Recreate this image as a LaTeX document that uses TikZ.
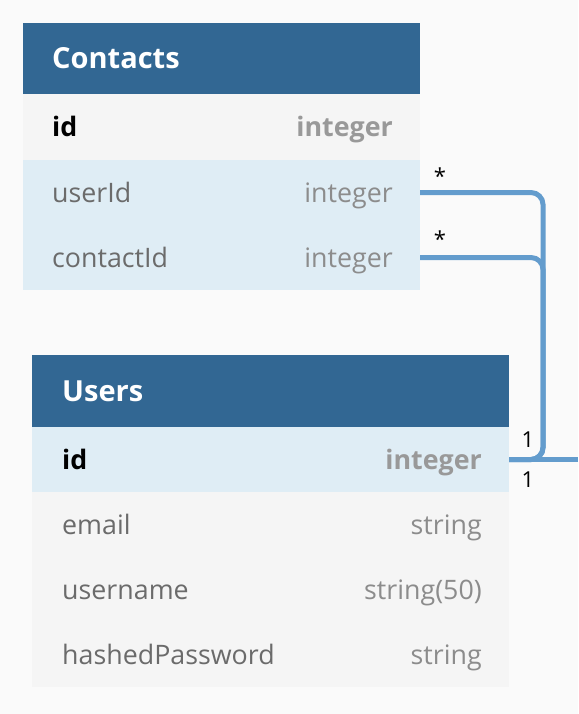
\documentclass[tikz,border=0pt]{standalone}
\usepackage{fontspec}
\setmainfont{Open Sans}
\definecolor{bg}{HTML}{FAFAFA}
\definecolor{hdr}{HTML}{326793}
\definecolor{rowblue}{HTML}{DFEDF5}
\definecolor{rowgrey}{HTML}{F5F5F5}
\definecolor{namegrey}{HTML}{6B6B6B}
\definecolor{typegrey}{HTML}{8C8C8C}
\definecolor{keytype}{HTML}{999999}
\definecolor{link}{HTML}{639CCD}
\tikzset{
  cell/.style={rectangle, inner sep=0pt, outer sep=0pt, draw=none},
  hdrtxt/.style={anchor=base west, inner sep=0pt, text=white, font=\fontsize{29}{33}\selectfont\bfseries},
  nametxt/.style={anchor=base west, inner sep=0pt, text=namegrey, font=\fontsize{26.8}{30}\selectfont},
  typetxt/.style={anchor=base east, inner sep=0pt, text=typegrey, font=\fontsize{26.8}{30}\selectfont},
  keyname/.style={anchor=base west, inner sep=0pt, text=black, font=\fontsize{26.8}{30}\selectfont\bfseries},
  keytypetxt/.style={anchor=base east, inner sep=0pt, text=keytype, font=\fontsize{26.8}{30}\selectfont\bfseries},
  card/.style={anchor=base, inner sep=0pt, text=black, font=\fontsize{22}{25}\selectfont},
  conn/.style={draw=link, line width=5pt, rounded corners=12pt}
}
\begin{document}
\begin{tikzpicture}[x=1pt,y=-1pt]
\fill[bg] (0,0) rectangle (578,714);
\useasboundingbox (0,0) rectangle (578,714);
% Contacts table
\node[cell, fill=hdr, minimum width=397pt, minimum height=71pt] (ch) at (221.5,58.5) {};
\node[cell, fill=rowgrey, minimum width=397pt, minimum height=66pt] (cid) at (221.5,127) {};
\node[cell, fill=rowblue, minimum width=397pt, minimum height=65pt] (cuid) at (221.5,192.5) {};
\node[cell, fill=rowblue, minimum width=397pt, minimum height=65pt] (ccid) at (221.5,257.5) {};
\node[hdrtxt] (chT) at (52,69) {Contacts};
\node[keyname] (cidN) at (52,137) {id};
\node[keytypetxt] (cidT) at (393,137) {integer};
\node[nametxt] (cuidN) at (52,202.5) {userId};
\node[typetxt] (cuidT) at (393,202.5) {integer};
\node[nametxt] (ccidN) at (52,267.5) {contactId};
\node[typetxt] (ccidT) at (393,267.5) {integer};
% Users table
\node[cell, fill=hdr, minimum width=477pt, minimum height=72pt] (uh) at (270.5,391) {};
\node[cell, fill=rowblue, minimum width=477pt, minimum height=65pt] (uid) at (270.5,459.5) {};
\node[cell, fill=rowgrey, minimum width=477pt, minimum height=65pt] (uem) at (270.5,524.5) {};
\node[cell, fill=rowgrey, minimum width=477pt, minimum height=65pt] (uun) at (270.5,589.5) {};
\node[cell, fill=rowgrey, minimum width=477pt, minimum height=65pt] (upw) at (270.5,654.5) {};
\node[hdrtxt] (uhT) at (62,401) {Users};
\node[keyname] (uidN) at (62,469.5) {id};
\node[keytypetxt] (uidT) at (482,469.5) {integer};
\node[nametxt] (uemN) at (62,534.5) {email};
\node[typetxt] (uemT) at (482,534.5) {string};
\node[nametxt] (uunN) at (62,599.5) {username};
\node[typetxt] (uunT) at (482,599.5) {string(50)};
\node[nametxt] (upwN) at (62,664.5) {hashedPassword};
\node[typetxt] (upwT) at (482,664.5) {string};
% connectors
\coordinate (trunk) at (543,459.5);
\coordinate (offR) at (578,459.5);
\draw[conn] (cuid.east) -| (trunk) -- (uid.east);
\draw[conn] (ccid.east) -| (trunk) -- (uid.east);
\draw[conn] (uid.east) -- (offR);
% cardinalities
\node[card] (s1) at (440,184) {*};
\node[card] (s2) at (440,247) {*};
\node[card] (o1) at (528,447) {1};
\node[card] (o2) at (528,487) {1};
\end{tikzpicture}
\end{document}
